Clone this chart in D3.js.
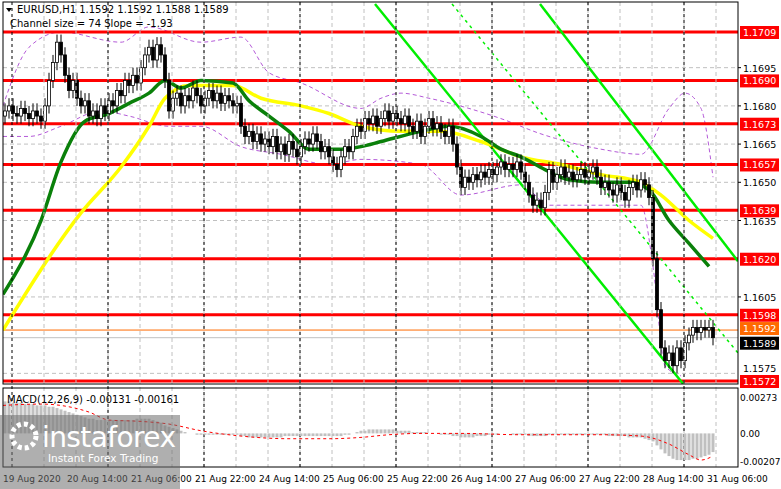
<!DOCTYPE html>
<html><head><meta charset="utf-8">
<script src="https://cdn.jsdelivr.net/npm/d3@7"></script>
<style>body{margin:0;background:#fff}text{font-family:"DejaVu Sans",sans-serif}</style>
</head><body><div id="chart"></div>
<script>
// hourly closes, one per bar
const closes = [
 1.1678,1.1680,1.1677,1.1676,1.1679,1.1677,1.1675,1.1678,1.1676,1.1674,
 1.1680,1.1690,1.1697,1.1705,1.1700,
 1.1692,1.1686,1.1690,1.1683,1.1680,1.1682,
 1.1676,1.1678,1.1675,1.1680,1.1677,1.1682,1.1680,1.1686,1.1684,1.1690,
 1.1688,1.1692,1.1689,1.1695,1.1700,1.1703,
 1.1698,1.1704,1.1700,1.1690,1.1678,
 1.1683,1.1685,1.1680,1.1684,1.1682,1.1687,1.1684,1.1680,1.1683,1.1686,1.1682,1.1685,1.1681,1.1684,1.1682,1.1680,1.1681,1.1672,
 1.1668,1.1670,1.1666,1.1669,1.1665,1.1667,1.1664,1.1668,1.1662,1.1665,1.1661,1.1666,1.1663,1.1660,1.1664,
 1.1667,1.1665,1.1669,1.1666,1.1662,1.1664,1.1660,1.1657,1.1655,1.1660,
 1.1664,1.1662,1.1668,1.1672,1.1670,1.1675,1.1673,1.1676,1.1672,1.1675,1.1678,1.1674,1.1677,1.1675,1.1673,
 1.1676,1.1672,1.1670,1.1674,1.1668,1.1672,1.1675,1.1671,1.1673,1.1670,1.1668,1.1672,1.1665,1.1656,
 1.1648,1.1652,1.1650,1.1653,1.1651,1.1654,1.1652,1.1655,1.1653,1.1656,1.1658,1.1655,1.1657,
 1.1655,1.1658,1.1654,1.1650,1.1645,1.1641,1.1643,1.1640,1.1646,1.1655,1.1650,
 1.1653,1.1656,1.1652,1.1654,1.1651,1.1653,1.1655,1.1652,1.1654,1.1656,1.1652,1.1648,1.1650,1.1647,1.1645,1.1649,1.1646,
 1.1643,1.1648,1.1650,1.1647,1.1651,1.1649,1.1644,
 1.1620,1.1600,1.1585,1.1580,1.1583,1.1578,1.1585,1.1580,1.1587,1.1590,1.1593,1.1591,1.1593,1.1592,1.1593,1.1589]
const firstOpen = 1.1676
// MACD histogram, in units of 0.0001
const macdHist = [
 24,24,23,23,23,22,22,22,21,21,21,20,20,19,18,
 17,16,15,14,13,12,11,11,10,10,10,10,10,10,10,
 10,10,10,11,11,11,11,10,9,8,6,5,4,3,2,
 1,0,0,-1,-1,-1,-1,-1,-1,-1,-1,-1,-1,-1,-2,
 -2,-3,-3,-3,-3,-3,-3,-3,-3,-3,-2,-2,-2,-2,-2,
 -2,-2,-2,-2,-2,-2,-2,-2,-2,-2,-1,-1,0,1,2,
 2,3,3,3,3,3,3,3,2,2,2,2,1,1,1,
 1,0,0,0,-1,-1,-1,-2,-2,-3,-3,-3,-3,-2,-2,
 -2,-1,-1,-1,0,0,0,-1,-1,-1,-1,-2,-2,-2,-2,
 -2,-1,-1,-1,-1,-1,-1,-1,-1,-1,-1,-1,-1,-1,-1,
 -1,-2,-2,-2,-2,-2,-3,-3,-3,-3,-4,-5,-6,-9,-12,
 -15,-17,-19,-20,-20,-20,-20,-19,-19,-18,-17,-16,-14]
const macdSignal = [[-0.5,0.0021],[9,0.0022],[21,0.0016],[26,0.0010],[34,0.0009],[41,0.0007],[49,0.0002],[59,-0.0002],[71,-0.0004],[81,-0.0004],[89,-0.0003],[96,-0.0001],[104,0.0000],[114,0.0000],[129,-0.0001],[149,-0.0001],[159,-0.0002],[166,-0.0008],[171,-0.0016],[174,-0.0020],[177,-0.0017]]
const smaGreen = [[-0.5,1.1606],[9,1.1635],[14,1.1658],[20,1.1674],[26,1.1677],[31,1.1681],[36,1.1685],[40,1.1690],[44,1.1687],[49,1.1690],[57,1.1689],[61,1.1682],[66,1.1676],[71,1.1670],[76,1.1663],[84,1.1663],[89,1.1664],[94,1.1666],[104,1.1670],[111,1.1672],[119,1.1668],[124,1.1663],[129,1.1660],[135,1.1655],[141,1.1651],[149,1.1650],[156,1.1650],[161,1.1647],[166,1.1635],[171,1.1626],[176,1.1617]]
const smaYellow = [[-0.5,1.1592],[19,1.1638],[29,1.1656],[36,1.1672],[40,1.1683],[46,1.1688],[57,1.1688],[64,1.1683],[74,1.1680],[81,1.1677],[89,1.1672],[99,1.1670],[109,1.1670],[119,1.1666],[129,1.1660],[139,1.1657],[149,1.1653],[159,1.1650],[164,1.1645],[171,1.1635],[177,1.1628]]
const bandUpper = [[-0.5,1.1680],[6,1.1703],[14,1.1709],[29,1.1705],[36,1.1711],[49,1.1705],[59,1.1707],[66,1.1693],[74,1.1689],[89,1.1679],[94,1.1683],[99,1.1685],[106,1.1683],[116,1.1679],[124,1.1675],[134,1.1669],[149,1.1663],[159,1.1661],[166,1.1679],[170,1.1685],[174,1.1679],[177,1.1652]]
const bandLower = [[-0.5,1.1668],[6,1.1668],[14,1.1672],[24,1.1678],[31,1.1676],[41,1.1672],[49,1.1672],[59,1.1664],[69,1.1661],[81,1.1657],[89,1.1659],[104,1.1657],[114,1.1645],[129,1.1649],[136,1.1641],[149,1.1641],[159,1.1641],[162,1.1617],[165,1.1578],[169,1.1574]]
const levels = [1.1709,1.1690,1.1673,1.1657,1.1639,1.1620,1.1598,1.1572]
const priceTicks = [1.1695,1.1680,1.1665,1.1650,1.1635,1.1605,1.1575]
const macdTicks = [[0.00273,"0.00273"],[0,"0.00"],[-0.00207,"-0.00207"]]
const timeLabels = ["19 Aug 2020","20 Aug 14:00","21 Aug 06:00","21 Aug 22:00","24 Aug 14:00","25 Aug 06:00","25 Aug 22:00","26 Aug 14:00","27 Aug 06:00","27 Aug 22:00","28 Aug 14:00","31 Aug 06:00"]
// channel lines as [barIndex, price]
const channel = [
 {p:[[92.5,1.1720],[170,1.1570]], dash:null},
 {p:[[133.75,1.1720],[183.25,1.1619]], dash:null},
 {p:[[111.75,1.1720],[183.25,1.1583]], dash:"3,4"}]

const W = 781, H = 489, plotR = 738
const svg = d3.select("#chart").append("svg").attr("width", W).attr("height", H)

var x = d3.scaleLinear().domain([0, closes.length - 1]).range([5, 713])
var y = d3.scaleLinear().domain([1.1572, 1.1709]).range([381, 32])
var ym = d3.scaleLinear().domain([-0.00207, 0.00273]).range([461, 397])

svg.append("defs").append("clipPath").attr("id", "main")
    .append("rect").attr("x", 3).attr("y", 2).attr("width", plotR - 3).attr("height", 382)

// grid
const g = svg.append("g").attr("clip-path", "url(#main)")
for (let gx = 44; gx < plotR; gx += 32) {
    svg.append("line").attr("x1", gx).attr("x2", gx).attr("y1", 2).attr("y2", 467)
        .attr("stroke", "#c0c0c0").attr("stroke-dasharray", "4,3")
}
priceTicks.forEach(p => g.append("line").attr("x1", 3).attr("x2", plotR).attr("y1", y(p)).attr("y2", y(p))
    .attr("stroke", "#c0c0c0").attr("stroke-dasharray", "4,3"))
for (let gx = 12; gx < plotR; gx += 96) {
    svg.append("line").attr("x1", gx).attr("x2", gx).attr("y1", 2).attr("y2", 467)
        .attr("stroke", "#000").attr("stroke-dasharray", "3,3")
}

const line = d3.line().x(d => x(d[0])).y(d => y(d[1]))
const curve = d3.line().x(d => x(d[0])).y(d => y(d[1])).curve(d3.curveMonotoneX)

g.append("path").attr("d", curve(bandUpper)).attr("fill", "none").attr("stroke", "#b45ad8").attr("stroke-dasharray", "4,3")
g.append("path").attr("d", curve(bandLower)).attr("fill", "none").attr("stroke", "#b45ad8").attr("stroke-dasharray", "4,3")

levels.forEach(p => g.append("line").attr("x1", 3).attr("x2", plotR).attr("y1", y(p)).attr("y2", y(p))
    .attr("stroke", "#ff0000").attr("stroke-width", 3))
g.append("line").attr("x1", 3).attr("x2", plotR).attr("y1", y(1.1592)).attr("y2", y(1.1592)).attr("stroke", "#ff6a00")
g.append("line").attr("x1", 3).attr("x2", plotR).attr("y1", y(1.1589)).attr("y2", y(1.1589)).attr("stroke", "#c0c0c0")

channel.forEach(c => g.append("path").attr("d", line(c.p)).attr("fill", "none")
    .attr("stroke", "#00ee00").attr("stroke-width", c.dash ? 1.5 : 2.5).attr("stroke-dasharray", c.dash))

g.append("path").attr("d", curve(smaYellow)).attr("fill", "none").attr("stroke", "#ffff00").attr("stroke-width", 3.5)
g.append("path").attr("d", curve(smaGreen)).attr("fill", "none").attr("stroke", "#0a800a").attr("stroke-width", 3.5)

// candles
const bars = closes.map((c, i) => {
    const o = i === 0 ? firstOpen : closes[i - 1]
    return {i: i, o: o, c: c, h: Math.max(o, c) + 0.0003, l: Math.min(o, c) - 0.0003}
})
const cg = g.selectAll(".candle").data(bars).enter().append("g")
cg.append("line").attr("x1", d => x(d.i)).attr("x2", d => x(d.i))
    .attr("y1", d => y(d.h)).attr("y2", d => y(d.l)).attr("stroke", "#000")
cg.append("rect").attr("x", d => x(d.i) - 1.5).attr("width", 3)
    .attr("y", d => y(Math.max(d.o, d.c))).attr("height", d => Math.max(1, Math.abs(y(d.o) - y(d.c))))
    .attr("fill", d => d.c >= d.o ? "#fff" : "#000").attr("stroke", "#000").attr("stroke-width", 0.8)

// MACD
svg.selectAll(".hist").data(macdHist).enter().append("rect")
    .attr("x", (d, i) => x(i) - 1.5).attr("width", 3)
    .attr("y", d => ym(Math.max(0, d / 10000))).attr("height", d => Math.abs(ym(0) - ym(d / 10000)))
    .attr("fill", "#c0c0c0")
svg.append("path").attr("d", d3.line().x(d => x(d[0])).y(d => ym(d[1])).curve(d3.curveMonotoneX)(macdSignal))
    .attr("fill", "none").attr("stroke", "#ff0000").attr("stroke-dasharray", "3,3")

// frames
svg.append("rect").attr("x", 3).attr("y", 2).attr("width", plotR - 3).attr("height", 382).attr("fill", "none").attr("stroke", "#000")
svg.append("rect").attr("x", 3).attr("y", 388).attr("width", plotR - 3).attr("height", 79).attr("fill", "none").attr("stroke", "#000")

// right axis
priceTicks.filter(p => p > 1.1580).forEach(p => {
    svg.append("line").attr("x1", plotR).attr("x2", plotR + 3).attr("y1", y(p)).attr("y2", y(p)).attr("stroke", "#000")
    svg.append("text").attr("x", 743).attr("y", y(p) + 4).attr("font-size", 9.5).text(p.toFixed(4))
})
svg.append("text").attr("x", 743).attr("y", y(1.1575) - 1).attr("font-size", 9.5).text("1.1575")
const tag = (p, bg, yy) => {
    svg.append("rect").attr("x", 740).attr("y", yy - 6).attr("width", 39).attr("height", 13).attr("fill", bg)
    svg.append("text").attr("x", 743).attr("y", yy + 4).attr("font-size", 9.5).attr("fill", "#fff").text(p.toFixed(4))
}
levels.forEach(p => tag(p, "#ff0000", y(p)))
tag(1.1592, "#ff6a00", y(1.1592) - 2)
tag(1.1589, "#000", y(1.1589) + 5)
macdTicks.forEach(t => svg.append("text").attr("x", 740).attr("y", ym(t[0]) + 4).attr("font-size", 9).text(t[1]))

// time labels
timeLabels.forEach((t, i) => {
    svg.append("text").attr("x", 3 + i * 64).attr("y", 482).attr("font-size", 9).text(t)
})

// titles
svg.append("path").attr("d", "M6,8 L12,8 L9,12 Z").attr("fill", "#000")
svg.append("text").attr("x", 17).attr("y", 13).attr("font-size", 10).text("EURUSD,H1  1.1592 1.1592 1.1588 1.1589")
svg.append("text").attr("x", 10).attr("y", 27).attr("font-size", 10).text("Channel size = 74 Slope = -1.93")
svg.append("text").attr("x", 7).attr("y", 403).attr("font-size", 10).text("MACD(12,26,9) -0.00131 -0.00161")

// watermark
svg.append("rect").attr("x", 0).attr("y", 415).attr("width", 180).attr("height", 74).attr("fill", "#6e6e6e").attr("opacity", 0.55)
svg.append("circle").attr("cx", 24).attr("cy", 436).attr("r", 12).attr("fill", "none").attr("stroke", "#fff").attr("stroke-width", 5).attr("stroke-dasharray", "4,3")
svg.append("text").attr("x", 42).attr("y", 447).attr("font-size", 28).attr("fill", "#fff").attr("font-family", "Liberation Sans").attr("textLength", 134).text("instaforex")
svg.append("text").attr("x", 48).attr("y", 462).attr("font-size", 10.5).attr("fill", "#fff").text("Instant Forex Trading")
</script></body></html>
